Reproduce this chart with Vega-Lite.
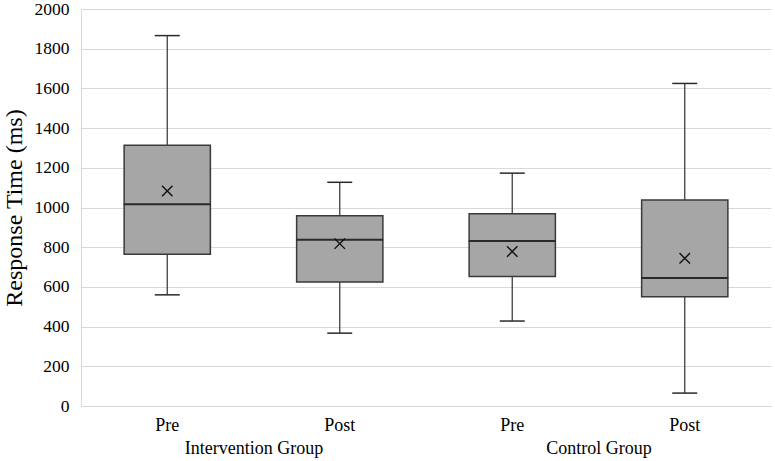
{
  "$schema": "https://vega.github.io/schema/vega-lite/v6.json",
  "width": 690,
  "height": 397,
  "autosize": "none",
  "padding": {"left": 81, "top": 9, "right": 4, "bottom": 55},
  "background": "white",
  "config": {
    "view": {"stroke": null},
    "font": "Liberation Serif",
    "axis": {"labelFont": "Liberation Serif", "titleFont": "Liberation Serif", "labelColor": "#000000", "titleColor": "#000000", "ticks": false},
    "axisY": {"title": "Response Time (ms)", "values": [0,200,400,600,800,1000,1200,1400,1600,1800,2000], "format": "d", "labelOverlap": false, "labelFontSize": 17.5, "labelPadding": 12, "titleFontSize": 24, "titleFontWeight": "normal", "titlePadding": 8, "gridColor": "#d9d9d9", "domainColor": "#d9d9d9"}
  },
  "layer": [
    {
      "data": {"values": [
        {"cat": "Intervention|Pre", "min": 560, "q1": 765, "median": 1016, "q3": 1313, "max": 1866, "mean": 1083},
        {"cat": "Intervention|Post", "min": 367, "q1": 625, "median": 838, "q3": 959, "max": 1127, "mean": 818},
        {"cat": "Control|Pre", "min": 428, "q1": 652, "median": 831, "q3": 969, "max": 1173, "mean": 778},
        {"cat": "Control|Post", "min": 65, "q1": 550, "median": 645, "q3": 1038, "max": 1625, "mean": 744}
      ]},
      "encoding": {
        "x": {
          "field": "cat", "type": "nominal",
          "sort": ["Intervention|Pre", "Intervention|Post", "Control|Pre", "Control|Post"],
          "scale": {"paddingInner": 0, "paddingOuter": 0},
          "axis": {"orient": "bottom", "title": null, "labelExpr": "split(datum.value, '|')[1]", "labelAngle": 0, "labelFontSize": 18, "labelPadding": 10, "domainColor": "#d9d9d9", "grid": false}
        }
      },
      "layer": [
        {
          "mark": {"type": "rule", "color": "#404040", "strokeWidth": 1.3},
          "encoding": {
            "y": {"field": "min", "type": "quantitative", "scale": {"domain": [0, 2000]}, "axis": {"title": "Response Time (ms)", "values": [0,200,400,600,800,1000,1200,1400,1600,1800,2000]}},
            "y2": {"field": "max"}
          }
        },
        {
          "mark": {"type": "bar", "fill": "#a6a6a6", "stroke": "#3a3a3a", "strokeWidth": 1.5, "width": {"band": 0.5}},
          "encoding": {"y": {"field": "q1", "type": "quantitative", "axis": {"title": "Response Time (ms)", "values": [0,200,400,600,800,1000,1200,1400,1600,1800,2000]}}, "y2": {"field": "q3"}}
        },
        {
          "mark": {"type": "tick", "color": "#2a2a2a", "size": 87, "thickness": 2, "opacity": 1},
          "encoding": {"y": {"field": "median", "type": "quantitative", "axis": {"title": "Response Time (ms)", "values": [0,200,400,600,800,1000,1200,1400,1600,1800,2000]}}}
        },
        {
          "mark": {"type": "tick", "color": "#2a2a2a", "size": 25, "thickness": 1.5, "opacity": 1},
          "encoding": {"y": {"field": "min", "type": "quantitative", "axis": {"title": "Response Time (ms)", "values": [0,200,400,600,800,1000,1200,1400,1600,1800,2000]}}}
        },
        {
          "mark": {"type": "tick", "color": "#2a2a2a", "size": 25, "thickness": 1.5, "opacity": 1},
          "encoding": {"y": {"field": "max", "type": "quantitative", "axis": {"title": "Response Time (ms)", "values": [0,200,400,600,800,1000,1200,1400,1600,1800,2000]}}}
        },
        {
          "mark": {"type": "point", "shape": "M-1,-1L1,1M-1,1L1,-1", "filled": false, "stroke": "#111111", "strokeWidth": 1.4, "size": 110, "opacity": 1},
          "encoding": {"y": {"field": "mean", "type": "quantitative", "axis": {"title": "Response Time (ms)", "values": [0,200,400,600,800,1000,1200,1400,1600,1800,2000]}}}
        }
      ]
    },
    {
      "data": {"values": [{"group": "Intervention Group"}, {"group": "Control Group"}]},
      "mark": {"type": "point", "opacity": 0},
      "encoding": {
        "x": {
          "field": "group", "type": "nominal",
          "sort": ["Intervention Group", "Control Group"],
          "scale": {"paddingInner": 0, "paddingOuter": 0},
          "axis": {"orient": "bottom", "title": null, "labelAngle": 0, "labelFontSize": 18, "labelPadding": 33, "domain": false, "grid": false}
        }
      }
    }
  ],
  "resolve": {"scale": {"x": "independent"}, "axis": {"x": "independent"}}
}
